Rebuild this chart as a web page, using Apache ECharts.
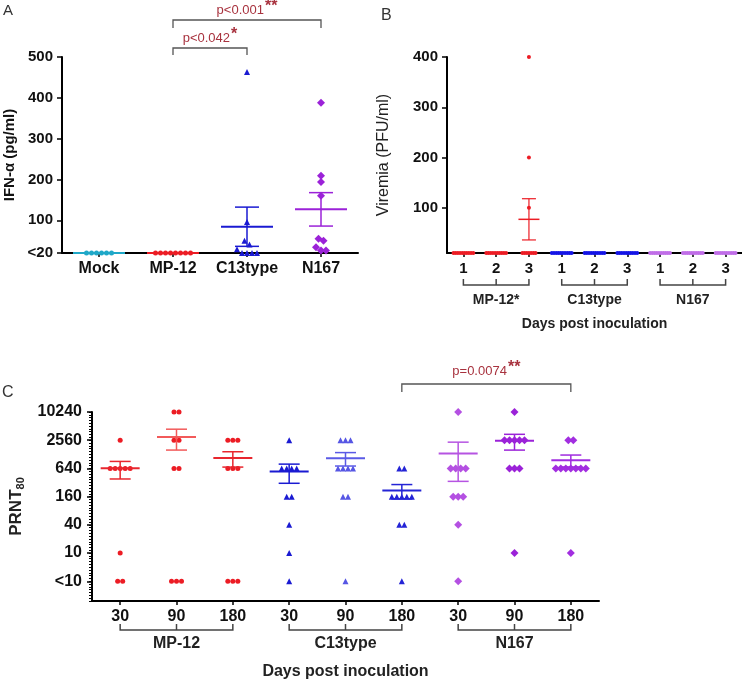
<!DOCTYPE html>
<html><head><meta charset="utf-8">
<script src="https://cdn.jsdelivr.net/npm/echarts@6/dist/echarts.min.js"></script>
<style>html,body{margin:0;padding:0;background:#fff}#c{width:742px;height:681px}</style>
</head><body><div id="c"></div><script>
// ---------- Panel A : IFN-alpha ----------
const catsA = ['Mock', 'MP-12', 'C13type', 'N167'];
const ifnMock = [20, 20, 20, 20, 20, 20];
const ifnMP12 = [20, 20, 20, 20, 20, 20, 20, 20];
const ifnC13 = [463, 96, 50, 41, 29, 20, 20, 20, 20];
const ifnN167 = [388, 209, 194, 160, 55, 50, 34, 26, 26];
const ticksA = [20, 100, 200, 300, 400, 500];
const tickLabelsA = ['<20', '100', '200', '300', '400', '500'];
const sigA = [
  { from: 1, to: 2, text: 'p<0.042', stars: '*' },
  { from: 1, to: 3, text: 'p<0.001', stars: '**' }
];

// ---------- Panel B : Viremia ----------
const catsB = ['1', '2', '3', '1', '2', '3', '1', '2', '3'];
const groupsB = ['MP-12*', 'C13type', 'N167'];
const virMP12 = [
  [10, 10, 10, 10, 10, 10, 10, 10, 10, 10],
  [10, 10, 10, 10, 10, 10, 10, 10, 10, 10],
  [400, 200, 100, 10, 10, 10, 10, 10, 10, 10]
];
const virC13 = [
  [10, 10, 10, 10, 10, 10, 10, 10, 10, 10],
  [10, 10, 10, 10, 10, 10, 10, 10, 10, 10],
  [10, 10, 10, 10, 10, 10, 10, 10, 10, 10]
];
const virN167 = [
  [10, 10, 10, 10, 10, 10, 10, 10, 10, 10],
  [10, 10, 10, 10, 10, 10, 10, 10, 10, 10],
  [10, 10, 10, 10, 10, 10, 10, 10, 10, 10]
];
const ticksB = [100, 200, 300, 400];

// ---------- Panel C : PRNT80 (2.5 = "<10") ----------
const catsC = ['30', '90', '180', '30', '90', '180', '30', '90', '180'];
const groupsC = ['MP-12', 'C13type', 'N167'];
const prntMP12 = [
  [2560, 640, 640, 640, 640, 640, 10, 2.5, 2.5],
  [10240, 10240, 2560, 2560, 640, 640, 2.5, 2.5, 2.5],
  [2560, 2560, 2560, 640, 640, 640, 2.5, 2.5, 2.5]
];
const prntC13 = [
  [2560, 640, 640, 640, 640, 160, 160, 40, 10, 2.5],
  [2560, 2560, 2560, 640, 640, 640, 640, 160, 160, 2.5],
  [640, 640, 160, 160, 160, 160, 160, 40, 40, 2.5]
];
const prntN167 = [
  [10240, 640, 640, 640, 640, 160, 160, 160, 40, 2.5],
  [10240, 2560, 2560, 2560, 2560, 2560, 640, 640, 640, 10],
  [2560, 2560, 640, 640, 640, 640, 640, 640, 640, 10]
];
const ticksC = [2.5, 10, 40, 160, 640, 2560, 10240];
const tickLabelsC = ['<10', '10', '40', '160', '640', '2560', '10240'];
const sigC = [{ from: 5, to: 8, text: 'p=0.0074', stars: '**' }];

// ---------- styles ----------
const FF = 'Liberation Sans, Arial, sans-serif';
const RED = '#ec1c24', BLUE = '#1a1ad2', PURPLE = '#9b22d8', CYAN = '#1fa8c8';
const colA = [CYAN, RED, BLUE, PURPLE];
const symA = ['circle', 'circle', 'triangle', 'diamond'];
const colB = [RED, RED, RED, '#1414e6', '#1414e6', '#1414e6', '#c06ee8', '#c06ee8', '#c06ee8'];
const colC = [RED, RED, RED, '#1a1ad2', '#5656e4', '#2424d6', '#b450e2', '#9b22d8', '#a22ee0'];
const meanColC = ['#e8262e', '#f25a5a', '#e8262e', '#1a1ad2', '#5a5ae6', '#2424d6', '#b654e2', '#9b22d8', '#a02ce0'];
const symC = ['circle', 'circle', 'circle', 'triangle', 'triangle', 'triangle', 'diamond', 'diamond', 'diamond'];
const SIGCOL = '#a8323e';

const log4 = v => Math.log(v / 10) / Math.log(4);
const ident = v => v;

function stats(vals) {
  const n = vals.length;
  const m = vals.reduce((a, b) => a + b, 0) / n;
  const sd = Math.sqrt(vals.reduce((a, b) => a + (b - m) * (b - m), 0) / (n - 1));
  const se = sd / Math.sqrt(n);
  return { mean: m, lo: m - se, hi: m + se };
}
function jitter(vals, thr, sp) {
  const idx = vals.map((v, i) => i).sort((a, b) => vals[b] - vals[a]);
  const off = new Array(vals.length).fill(0);
  let start = 0;
  for (let k = 1; k <= idx.length; k++) {
    if (k === idx.length || Math.abs(vals[idx[k]] - vals[idx[k - 1]]) >= thr) {
      const n = k - start;
      for (let j = 0; j < n; j++) off[idx[start + j]] = (j - (n - 1) / 2) * sp;
      start = k;
    }
  }
  return off;
}
function scatter(xi, yi, cat, vals, tf, color, symbol, size, thr, sp) {
  const off = jitter(vals, thr, sp);
  return {
    type: 'scatter', xAxisIndex: xi, yAxisIndex: yi, symbol, symbolSize: size, clip: false, silent: true, z: 3,
    itemStyle: { color, opacity: 1 },
    data: vals.map((v, i) => ({ value: [cat, tf(v)], symbolOffset: [off[i], 0] }))
  };
}
function meanSem(xi, yi, groups, tf, colors, hw, hc, lwM, lwB) {
  const st = groups.map(stats);
  return {
    type: 'custom', xAxisIndex: xi, yAxisIndex: yi, silent: true, clip: false, z: 4,
    data: st.map((s, i) => [i, tf(s.mean), tf(s.lo), tf(s.hi)]),
    renderItem(p, api) {
      const x = api.value(0), c = colors[p.dataIndex];
      const pm = api.coord([x, api.value(1)]);
      const pl = api.coord([x, api.value(2)]);
      const ph = api.coord([x, api.value(3)]);
      const ch = [{ type: 'line', shape: { x1: pm[0] - hw, y1: pm[1], x2: pm[0] + hw, y2: pm[1] }, style: { stroke: c, lineWidth: lwM } }];
      if (Math.abs(pl[1] - ph[1]) > 0.5) {
        ch.push({ type: 'line', shape: { x1: pm[0], y1: ph[1], x2: pm[0], y2: pl[1] }, style: { stroke: c, lineWidth: lwB } });
        ch.push({ type: 'line', shape: { x1: pm[0] - hc, y1: ph[1], x2: pm[0] + hc, y2: ph[1] }, style: { stroke: c, lineWidth: lwB } });
        ch.push({ type: 'line', shape: { x1: pm[0] - hc, y1: pl[1], x2: pm[0] + hc, y2: pl[1] }, style: { stroke: c, lineWidth: lwB } });
      }
      return { type: 'group', children: ch };
    }
  };
}
function groupBrackets(xi, yi, groups, ymin, off, gap, fs) {
  return {
    type: 'custom', xAxisIndex: xi, yAxisIndex: yi, silent: true, clip: false,
    data: groups.map((g, i) => [i * 3, ymin, i * 3 + 2]),
    renderItem(p, api) {
      const a = api.coord([api.value(0), api.value(1)]);
      const b = api.coord([api.value(2), api.value(1)]);
      const m = api.coord([api.value(0) + 1, api.value(1)]);
      const y = a[1] + off;
      const s = { stroke: '#444', lineWidth: 1.5, fill: null };
      return { type: 'group', children: [
        { type: 'polyline', shape: { points: [[a[0], y - 6], [a[0], y], [b[0], y], [b[0], y - 6]] }, style: s },
        { type: 'line', shape: { x1: m[0], y1: y - 6, x2: m[0], y2: y }, style: s },
        { type: 'text', style: { text: groups[p.dataIndex], x: m[0], y: y + gap, align: 'center', verticalAlign: 'middle', fontSize: fs, fontWeight: 'bold', fontFamily: FF, fill: '#222' } }
      ] };
    }
  };
}
function sigBrackets(xi, yi, sigs, ytop, offs, drops, tgap) {
  return {
    type: 'custom', xAxisIndex: xi, yAxisIndex: yi, silent: true, clip: false,
    data: sigs.map(s => [s.from, ytop, s.to]),
    renderItem(p, api) {
      const a = api.coord([api.value(0), api.value(1)]);
      const b = api.coord([api.value(2), api.value(1)]);
      const y = a[1] + offs[p.dataIndex], d = drops[p.dataIndex];
      const sg = sigs[p.dataIndex];
      return { type: 'group', children: [
        { type: 'polyline', shape: { points: [[a[0], y + d], [a[0], y], [b[0], y], [b[0], y + d]] }, style: { stroke: '#555', lineWidth: 1.3, fill: null } },
        { type: 'text', style: { text: sg.text + '{s|' + sg.stars + '}', x: (a[0] + b[0]) / 2, y: y - tgap, align: 'center', verticalAlign: 'middle',
          fontSize: 13, fontFamily: FF, fill: SIGCOL,
          rich: { s: { fontSize: 16, fontWeight: 'bold', fontFamily: FF, fill: SIGCOL, padding: [0, 0, 7, 1] } } } }
      ] };
    }
  };
}

const axisLine = { show: true, onZero: false, lineStyle: { color: '#000', width: 2 } };
const tick = { show: true, length: 5, lineStyle: { color: '#000', width: 1.5 } };

const series = [];
// Panel A
[ifnMock, ifnMP12, ifnC13, ifnN167].forEach((vals, i) => {
  series.push(scatter(0, 0, i, vals, ident, colA[i], symA[i], symA[i] === 'diamond' ? 8 : (symA[i] === 'triangle' ? 6 : 5), 12, 5));
});
series.push(meanSem(0, 0, [ifnMock, ifnMP12, ifnC13, ifnN167], ident, colA, 26, 12, 2, 1.5));
series.push(sigBrackets(0, 0, sigA, 500, [-9, -37], [7, 8], 10));
// Panel B
const virAll = [...virMP12, ...virC13, ...virN167];
virAll.forEach((vals, i) => {
  series.push(scatter(1, 1, i, vals, ident, colB[i], 'circle', 4, 5, 2.2));
});
series.push(meanSem(1, 1, virAll, ident, colB, 10.5, 7, 1.5, 1.2));
series.push(groupBrackets(1, 1, groupsB, 10, 32, 15, 14));
// Panel C
const prntAll = [...prntMP12, ...prntC13, ...prntN167];
prntAll.forEach((vals, i) => {
  series.push(scatter(2, 2, i, vals, v => v, colC[i], symC[i], symC[i] === 'diamond' ? 8 : (symC[i] === 'triangle' ? 6 : 5), 0.5, 5));
});
for (let s = series.length - 9; s < series.length; s++) {
  series[s].data.forEach(d => { d.value[1] = log4(d.value[1]); });
}
series.push(meanSem(2, 2, prntAll, log4, meanColC, 19.5, 10.5, 2, 1.5));
series.push(groupBrackets(2, 2, groupsC, -1.7, 29, 14, 16));
series.push(sigBrackets(2, 2, sigC, 5, [-28], [8], 13));

const option = {
  animation: false,
  backgroundColor: '#fff',
  textStyle: { fontFamily: FF },
  grid: [
    { left: 62, top: 57, width: 296, height: 196 },
    { left: 447, top: 57, width: 295, height: 196 },
    { left: 82, top: 412, width: 517, height: 197 }
  ],
  xAxis: [
    { type: 'category', gridIndex: 0, data: catsA, axisLine, axisTick: { ...tick, alignWithLabel: true, length: 4 },
      axisLabel: { margin: 8, fontSize: 16, fontWeight: 'bold', color: '#111', fontFamily: FF, interval: 0 } },
    { type: 'category', gridIndex: 1, data: catsB, axisLine, axisTick: { ...tick, alignWithLabel: true, length: 4 },
      axisLabel: { margin: 8, fontSize: 15, fontWeight: 'bold', color: '#111', fontFamily: FF, interval: 0 },
      name: 'Days post inoculation', nameLocation: 'middle', nameGap: 64,
      nameTextStyle: { fontSize: 14, fontWeight: 'bold', color: '#222', fontFamily: FF } },
    { type: 'category', gridIndex: 2, data: catsC, axisLine, axisTick: { ...tick, alignWithLabel: true, length: 4 },
      axisLabel: { margin: 8, fontSize: 16, fontWeight: 'bold', color: '#111', fontFamily: FF, interval: 0 },
      name: 'Days post inoculation', nameLocation: 'middle', nameGap: 63,
      nameTextStyle: { fontSize: 16, fontWeight: 'bold', color: '#222', fontFamily: FF } }
  ],
  yAxis: [
    { type: 'value', gridIndex: 0, min: 20, max: 500, splitLine: { show: false }, axisLine,
      axisTick: { ...tick, customValues: ticksA },
      axisLabel: { customValues: ticksA, margin: 9, fontSize: 15, fontWeight: 'bold', color: '#111', fontFamily: FF,
        formatter: v => tickLabelsA[ticksA.indexOf(v)] },
      name: 'IFN-α (pg/ml)', nameLocation: 'middle', nameGap: 45, nameRotate: 90,
      nameTextStyle: { fontSize: 15, fontWeight: 'bold', color: '#111', fontFamily: FF } },
    { type: 'value', gridIndex: 1, min: 10, max: 400, splitLine: { show: false }, axisLine,
      axisTick: { ...tick, customValues: ticksB },
      axisLabel: { customValues: ticksB, margin: 9, fontSize: 15, fontWeight: 'bold', color: '#111', fontFamily: FF },
      name: 'Viremia (PFU/ml)', nameLocation: 'middle', nameGap: 55, nameRotate: 90,
      nameTextStyle: { fontSize: 16, color: '#222', fontFamily: FF } },
    { type: 'value', gridIndex: 2, position: 'left', min: -1.7, max: 5, splitLine: { show: false }, axisLine,
      axisTick: { ...tick, customValues: ticksC.map(log4) },
      axisLabel: { customValues: ticksC.map(log4), margin: 10, fontSize: 16, fontWeight: 'bold', color: '#111', fontFamily: FF,
        formatter: v => { let k = 0, best = 1e9; ticksC.forEach((t, i) => { const d = Math.abs(log4(t) - v); if (d < best) { best = d; k = i; } }); return tickLabelsC[k]; } },
      name: '{a|PRNT}{b|80}', nameLocation: 'middle', nameGap: 66, nameRotate: 90,
      nameTextStyle: { fontSize: 16, fontWeight: 'bold', color: '#222', fontFamily: FF,
        rich: { a: { fontSize: 17, fontWeight: 'bold', fontFamily: FF, color: '#222' }, b: { fontSize: 11, fontFamily: FF, color: '#222', padding: [8, 0, 0, 0] } } } },
    { type: 'value', gridIndex: 2, position: 'left', offset: 0, min: -1.7, max: 5, interval: 0.1, splitLine: { show: false },
      axisLine: { show: false }, axisLabel: { show: false },
      axisTick: { show: true, length: 3, lineStyle: { color: '#000', width: 1 } } }
  ],
  graphic: [
    { type: 'text', left: 3, top: 3, style: { text: 'A', fontSize: 15, fontFamily: FF, fill: '#333' } },
    { type: 'text', left: 381, top: 8, style: { text: 'B', fontSize: 16, fontFamily: FF, fill: '#333' } },
    { type: 'text', left: 2, top: 385, style: { text: 'C', fontSize: 16, fontFamily: FF, fill: '#333' } }
  ],
  series
};
const chart = echarts.init(document.getElementById('c'), null, { renderer: 'canvas' });
chart.setOption(option);
</script></body></html>
